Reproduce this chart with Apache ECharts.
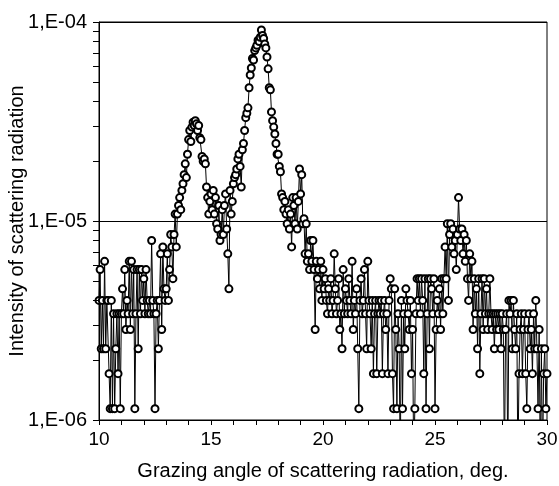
<!DOCTYPE html>
<html><head><meta charset="utf-8">
<script src="https://cdn.jsdelivr.net/npm/echarts@6/dist/echarts.min.js"></script>
<style>html,body{margin:0;padding:0;background:#fff}#c{width:559px;height:486px}</style>
</head><body><div id="c"></div>
<script>
// scan grid of the measurement (deg)
const ANGLE_START = 10;
const ANGLE_STEP = 0.05;
// detector counts, one per scan step (10.00 .. 30.00 deg)
const counts = [
  7,10,4,7,4,11,4,7,7,3,        // 10.0
  2,7,2,6,2,4,6,3,6,2,          // 10.5
  6,8,6,10,5,7,6,11,5,11,       // 11.0
  6,10,2,6,10,4,10,6,10,7,      // 11.5
  9,6,10,7,6,7,6,14,7,6,        // 12.0
  2,6,7,4,7,12,5,13,8,7,        // 12.5
  8,12,7,10,15,13,9,15,19,13,   // 13.0
  19,21,23,20,25,27,30,34,29,38,// 13.5
  45,50,44,52,55,53,56,54,50,53,// 14.0
  46,45,37,35,36,34,26,23,19,22,// 14.5
  24,20,25,19,23,17,16,21,14,15,// 15.0
  20,15,21,24,16,12,8,25,19,22, // 15.5
  27,29,30,32,36,38,33,26,40,43,// 16.0
  50,58,61,65,82,95,103,115,113,126, // 16.5
  130,134,142,140,147,160,150,145,136,130, // 17.0
  117,102,82,80,62,56,52,48,43,38, // 17.5
  38,33,31,24,23,20,22,19,17,20,// 18.0
  16,19,13,23,21,17,23,16,22,32,// 18.5
  24,30,17,18,12,17,11,12,10,14,// 19.0
  11,14,10,5,11,9,10,8,11,7,    // 19.5
  10,8,9,7,6,8,7,9,6,7,         // 20.0
  12,8,6,7,9,5,6,4,10,6,        // 20.5
  8,7,6,9,7,6,11,5,7,6,         // 21.0
  8,4,2,7,9,6,7,10,6,4,         // 21.5
  11,7,6,4,7,3,6,7,3,6,         // 22.0
  7,6,7,3,6,7,5,6,3,7,          // 22.5
  9,8,3,2,8,5,2,6,4,1,          // 23.0
  7,2,6,4,8,7,6,5,7,3,          // 23.5
  5,1,2,6,9,7,9,6,9,7,          // 24.0
  3,9,2,6,9,4,9,8,6,9,          // 24.5
  2,5,7,6,8,5,9,6,9,13,         // 25.0
  9,17,7,15,17,13,16,12,14,10,  // 25.5
  15,23,16,14,16,12,15,11,14,9, // 26.0
  7,12,9,11,5,9,6,8,4,9,        // 26.5
  3,6,9,5,9,6,8,5,6,9,          // 27.0
  6,5,6,4,6,5,6,5,6,4,          // 27.5
  6,5,1,5,6,1,7,6,7,4,          // 28.0
  7,5,4,6,1,3,5,6,3,5,          // 28.5
  6,3,2,5,6,4,5,3,6,4,          // 29.0
  7,4,2,5,1,4,1,3,4,2,          // 29.5
  3                             // 30.0
];
// intensity per count (read from quantised levels)
const COUNT_UNIT = 5.7e-7;

const xTickLabels = [10, 15, 20, 25, 30];
const yTickValues = [1e-6, 1e-5, 1e-4];
const yTickLabels = ['1,E-06', '1,E-05', '1,E-04'];
const yMinorTickValues = [2e-6,3e-6,4e-6,5e-6,6e-6,7e-6,8e-6,9e-6,2e-5,3e-5,4e-5,5e-5,6e-5,7e-5,8e-5,9e-5];

const xTitle = 'Grazing angle of scattering radiation, deg.';
const yTitle = 'Intensity of scattering radiation';

const points = counts.map((c, i) => [+(ANGLE_START + i * ANGLE_STEP).toFixed(2), c * COUNT_UNIT]);

const FONT = '"Liberation Sans", Arial, sans-serif';
const chart = echarts.init(document.getElementById('c'), null, {renderer: 'canvas'});
chart.setOption({
  animation: false,
  backgroundColor: '#fff',
  grid: {left: 99, right: 12, top: 22, bottom: 66, containLabel: false, outerBoundsMode: 'none',
    show: true, borderColor: '#000', borderWidth: 1, backgroundColor: 'transparent'},
  xAxis: {
    type: 'value', min: xTickLabels[0], max: xTickLabels[xTickLabels.length - 1], interval: 5,
    axisLine: {show: true, lineStyle: {color: '#000', width: 1}},
    axisTick: {show: true, length: 5, lineStyle: {color: '#000'}},
    minorTick: {show: true, splitNumber: 5, length: 5, lineStyle: {color: '#000'}},
    splitLine: {show: false},
    axisLabel: {color: '#000', fontSize: 19, fontFamily: FONT, margin: 10,
      formatter: v => xTickLabels.includes(v) ? String(v) : ''},
    name: xTitle, nameLocation: 'middle', nameGap: 41, nameMoveOverlap: false,
    nameTextStyle: {color: '#000', fontSize: 20, fontFamily: FONT}
  },
  yAxis: {
    type: 'log', logBase: 10, min: yTickValues[0], max: yTickValues[yTickValues.length - 1],
    axisLine: {show: true, lineStyle: {color: '#000', width: 1}},
    axisTick: {show: true, length: 6, lineStyle: {color: '#000'}},
    splitLine: {show: true, lineStyle: {color: '#000', width: 1}},
    axisLabel: {color: '#000', fontSize: 20, fontFamily: FONT, margin: 12,
      formatter: v => {
        const k = yTickValues.findIndex(t => Math.abs(Math.log10(t) - Math.log10(v)) < 1e-6);
        return k >= 0 ? yTickLabels[k] : '';
      }},
    name: yTitle, nameLocation: 'middle', nameGap: 72, nameMoveOverlap: false,
    nameTextStyle: {color: '#000', fontSize: 20, fontFamily: FONT}
  },
  series: [
    {
      type: 'line', data: points, clip: true,
      symbol: 'emptyCircle', symbolSize: 7, showAllSymbol: true,
      lineStyle: {color: '#000', width: 1},
      itemStyle: {color: '#000', borderColor: '#000', borderWidth: 1},
      emphasis: {disabled: true}
    },
    {
      type: 'custom', silent: true, clip: false, z: 5,
      data: yMinorTickValues.map(v => [xTickLabels[0], v]),
      renderItem: (params, api) => {
        const p = api.coord([api.value(0), api.value(1)]);
        const y = Math.round(p[1]) + 0.5;
        return {type: 'line', shape: {x1: p[0] - 6, y1: y, x2: p[0], y2: y}, style: {stroke: '#000', lineWidth: 1}};
      }
    }
  ]
});
</script></body></html>
